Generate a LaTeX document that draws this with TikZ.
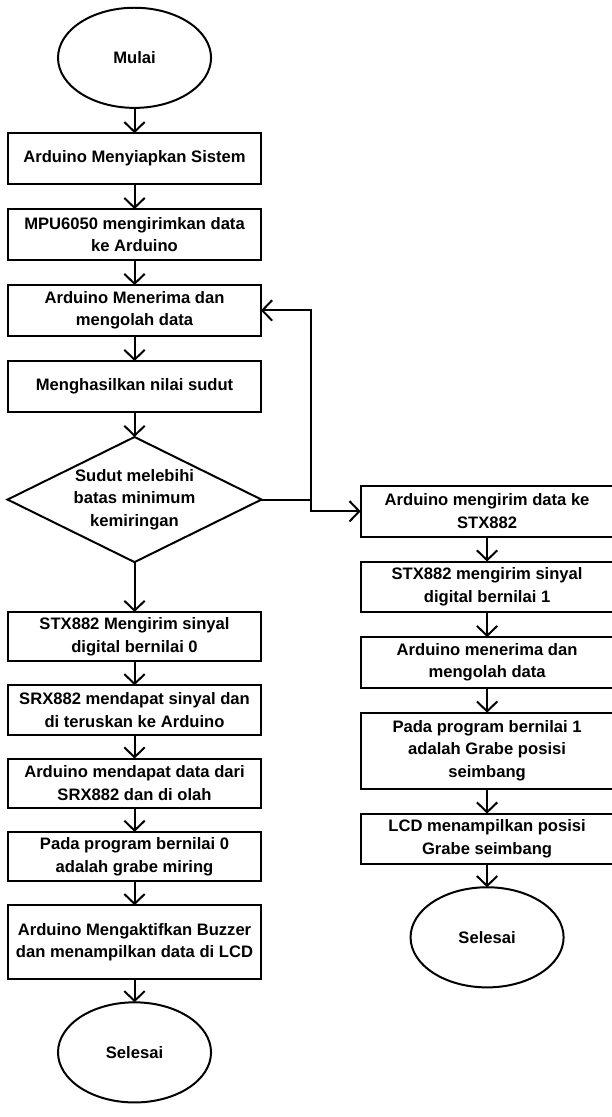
\documentclass[tikz,border=0pt]{standalone}
\usepackage{fontspec}
\setmainfont{Liberation Sans}
\usetikzlibrary{arrows.meta,positioning,shapes.geometric}
\tikzset{
  txt/.style={font=\fontsize{12.5}{17}\selectfont\bfseries},
  proc/.style={draw,rectangle,line width=1.5pt,outer sep=0pt,minimum width=6.69cm,minimum height=1.34cm,align=center,inner sep=2pt,txt},
  term/.style={draw,ellipse,line width=1.5pt,outer sep=0pt,minimum width=4.05cm,minimum height=2.65cm,txt},
  decide/.style={draw,diamond,aspect=2.03,line width=1.5pt,outer sep=0pt,minimum width=6.72cm,minimum height=3.31cm,inner sep=0pt,align=center,txt},
  flow/.style={-{Straight Barb[length=2.6mm,width=5.4mm,line width=1.5pt]},line width=1.5pt},
}
\begin{document}
\begin{tikzpicture}[node distance=.67cm]
  \useasboundingbox (0,0) rectangle (16.17,-29.56);
  % main column
  \node[term] (mulai) at (3.56,-1.53) {Mulai};
  \node[proc,below=of mulai] (siap) {Arduino Menyiapkan Sistem};
  \node[proc,below=of siap] (mpu) {MPU6050 mengirimkan data\\ke Arduino};
  \node[proc,below=of mpu] (terima) {Arduino Menerima dan\\mengolah data};
  \node[proc,below=of terima] (sudut) {Menghasilkan nilai sudut};
  \node[decide,below=of sudut] (cek) {Sudut melebihi\\batas minimum\\kemiringan};
  \node[proc,below=1.32cm of cek,minimum height=1.31cm] (stxnol) {STX882 Mengirim sinyal\\digital bernilai 0};
  \node[proc,below=.63cm of stxnol,minimum height=1.31cm] (srx) {SRX882 mendapat sinyal dan\\di teruskan ke Arduino};
  \node[proc,below=.63cm of srx,minimum height=1.31cm] (olahnol) {Arduino mendapat data dari\\SRX882 dan di olah};
  \node[proc,below=.63cm of olahnol,minimum height=1.31cm] (miring) {Pada program bernilai 0\\adalah grabe miring};
  \node[proc,below=.63cm of miring,minimum height=1.96cm] (buzzer) {Arduino Mengaktifkan Buzzer\\dan menampilkan data di LCD};
  \node[term,below=.61cm of buzzer] (selesainol) {Selesai};
  % branch column
  \node[proc] (kirim) at (12.89,-13.53) {Arduino mengirim data ke\\STX882};
  \node[proc,below=.66cm of kirim] (stxsatu) {STX882 mengirim sinyal\\digital bernilai 1};
  \node[proc,below=.66cm of stxsatu] (olahsatu) {Arduino menerima dan\\mengolah data};
  \node[proc,below=.66cm of olahsatu,minimum height=2.01cm] (seimbang) {Pada program bernilai 1\\adalah Grabe posisi\\seimbang};
  \node[proc,below=.66cm of seimbang] (lcd) {LCD menampilkan posisi\\Grabe seimbang};
  \node[term,below=.61cm of lcd] (selesaisatu) {Selesai};
  \coordinate[right=1.3cm of cek.east] (jn);

  \draw[flow] (mulai) -- (siap);
  \draw[flow] (siap) -- (mpu);
  \draw[flow] (mpu) -- (terima);
  \draw[flow] (terima) -- (sudut);
  \draw[flow] (sudut) -- (cek);
  \draw[flow] (cek) -- (stxnol);
  \draw[flow] (stxnol) -- (srx);
  \draw[flow] (srx) -- (olahnol);
  \draw[flow] (olahnol) -- (miring);
  \draw[flow] (miring) -- (buzzer);
  \draw[flow] (buzzer) -- (selesainol);
  \draw[line width=1.5pt] (cek.east) -- (jn);
  \draw[flow] (jn) |- (terima.east);
  \draw[flow] (jn) |- (kirim.west);
  \draw[flow] (kirim) -- (stxsatu);
  \draw[flow] (stxsatu) -- (olahsatu);
  \draw[flow] (olahsatu) -- (seimbang);
  \draw[flow] (seimbang) -- (lcd);
  \draw[flow] (lcd) -- (selesaisatu);
\end{tikzpicture}
\end{document}
